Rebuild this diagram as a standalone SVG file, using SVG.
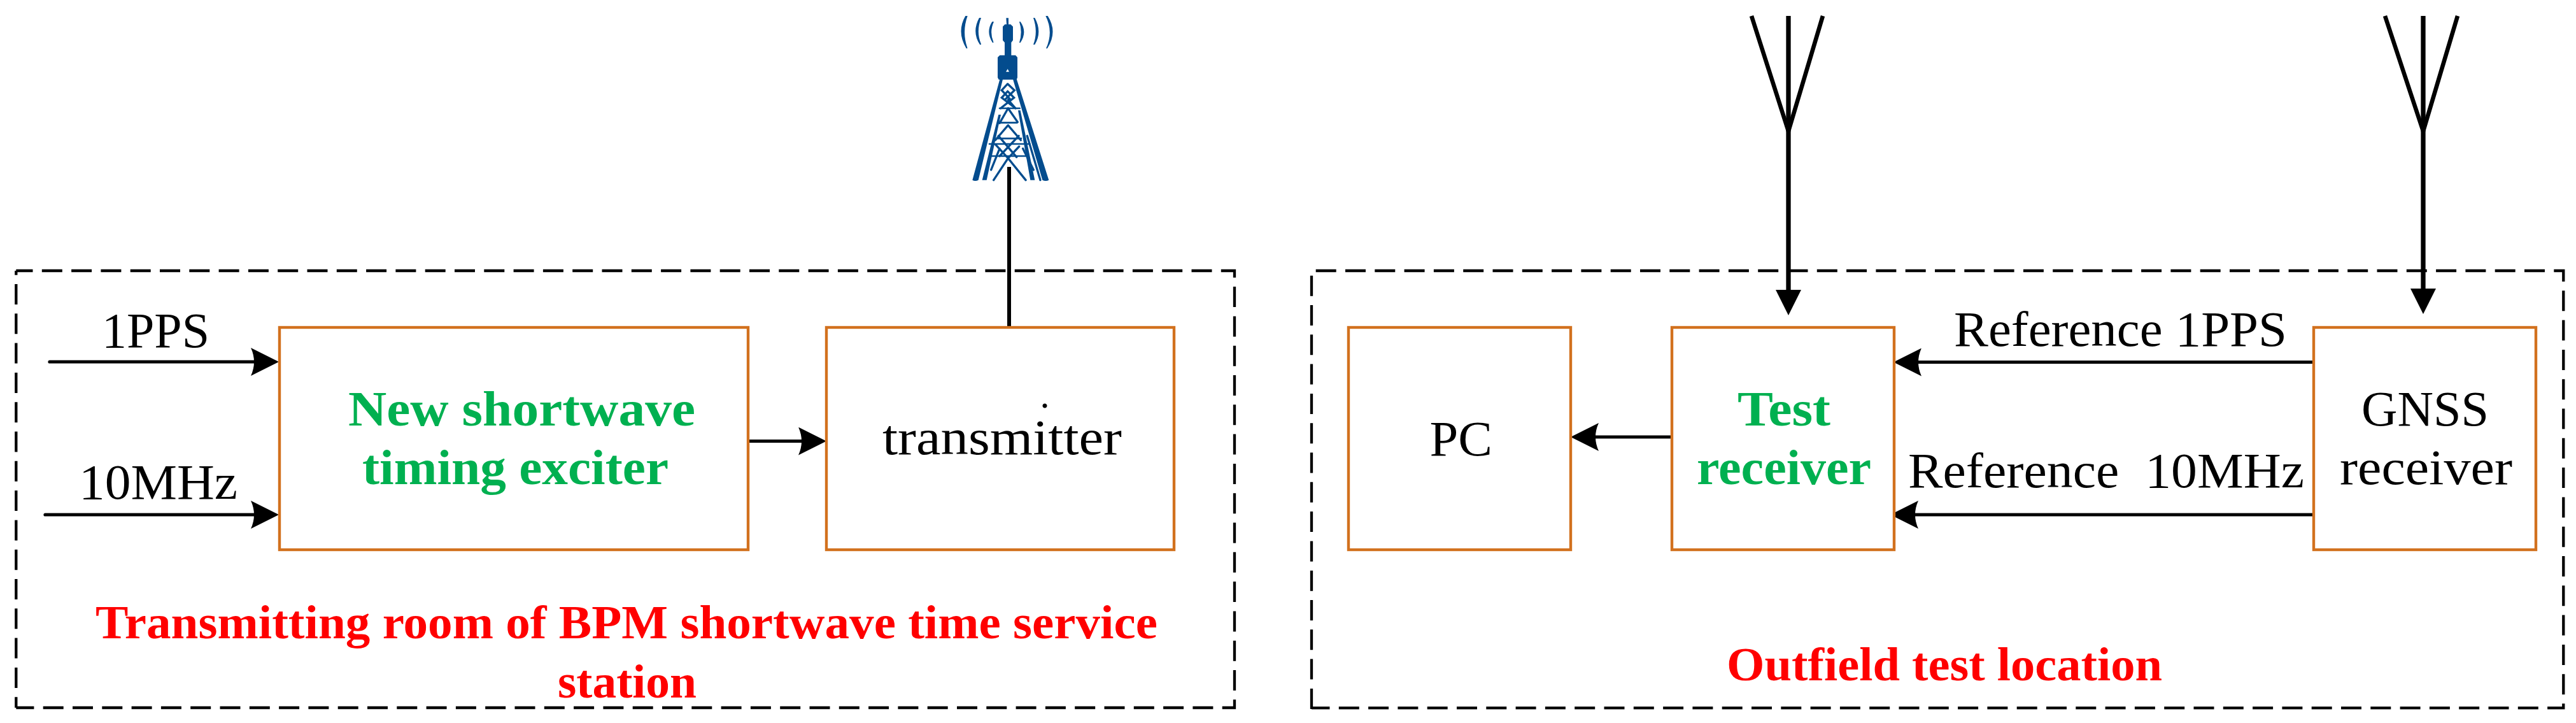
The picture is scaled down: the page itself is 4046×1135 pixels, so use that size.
<svg xmlns="http://www.w3.org/2000/svg" width="4046" height="1135" viewBox="0 0 4046 1135">
<style>
.zone{fill:none;stroke:#000;stroke-width:4.3;stroke-dasharray:32 14.3}
.box{fill:#fff;stroke:#D2711E;stroke-width:4.4}
.wire{fill:none;stroke:#000;stroke-width:5.2;stroke-linecap:round;marker-end:url(#head)}
.mast{fill:none;stroke:#000;stroke-width:6}
.feed{fill:none;stroke:#000;stroke-width:7.3;marker-end:url(#down)}
.arm{fill:none;stroke:#000;stroke-width:6.6}
.t{font-family:"Liberation Serif","Times New Roman",serif;font-size:78px;fill:#000;white-space:pre}
.g{font-weight:bold;fill:#00B050}
.r{font-weight:bold;fill:#FF0000;font-size:74px}
.tw{fill:none;stroke:#034C8E;stroke-width:10;stroke-linecap:round}
.tf{fill:#034C8E}
</style>
<defs>
<marker id="head" markerUnits="userSpaceOnUse" markerWidth="44" markerHeight="44" viewBox="0 0 44 44" refX="34" refY="22" orient="auto"><path d="M44 22L0 0Q10 22 0 44Z" fill="#000"/></marker>
<marker id="down" markerUnits="userSpaceOnUse" markerWidth="40" markerHeight="40" viewBox="0 0 40 40" refX="30" refY="20" orient="auto"><path d="M40 20L0 0V40Z" fill="#000"/></marker>
</defs>
<rect width="4046" height="1135" fill="#fff"/>
<g id="zone-transmit">
<path class="zone" style="stroke-dashoffset:5.800" d="M25.300 425H1939V1111H25.300"/>
<path class="zone" style="stroke-dashoffset:25.300" d="M25.300 425V1111"/>
<text class="t r" x="150" y="1002" textLength="1668" lengthAdjust="spacingAndGlyphs">Transmitting room of BPM shortwave time service</text>
<text class="t r" x="876" y="1095" textLength="218" lengthAdjust="spacingAndGlyphs">station</text></g>
<g id="zone-outfield">
<path class="zone" style="stroke-dashoffset:39.600" d="M2060 425H4026.300V1111.300H2060"/>
<path class="zone" style="stroke-dashoffset:38.600" d="M2060 425V1113"/>
<text class="t r" x="2712" y="1068" textLength="684" lengthAdjust="spacingAndGlyphs">Outfield test location</text></g>
<g id="connectors">
<path class="wire" d="M78 568H428"/>
<path class="wire" d="M71 808H428"/>
<path class="wire" d="M1175 692.500H1288"/>
<path class="mast" d="M1585 262V514"/>
<path class="wire" d="M2626 686H2477"/>
<path class="wire" d="M3634 568.500H2984"/>
<path class="wire" d="M3634 808H2979"/>
<path class="feed" d="M2809 25V485"/>
<path class="arm" d="M2751 25L2809 206L2863 25"/>
<path class="feed" d="M3806 25V483"/>
<path class="arm" d="M3746 25L3806 206L3860 25"/>
</g>
<g id="label-1pps"><text class="t" x="160" y="545" textLength="169" lengthAdjust="spacingAndGlyphs">1PPS</text></g>
<g id="label-10mhz"><text class="t" x="124" y="783" textLength="249" lengthAdjust="spacingAndGlyphs">10MHz</text></g>
<g id="label-ref-1pps"><text class="t" x="3069" y="543" textLength="523" lengthAdjust="spacingAndGlyphs">Reference 1PPS</text></g>
<g id="label-ref-10mhz"><text class="t" x="2997" y="765" textLength="622" lengthAdjust="spacingAndGlyphs" xml:space="preserve">Reference  10MHz</text></g>
<g id="node-exciter"><rect class="box" x="439" y="514" width="736" height="349"/>
<text class="t g" x="547" y="668" textLength="545" lengthAdjust="spacingAndGlyphs">New shortwave</text>
<text class="t g" x="569" y="760" textLength="481" lengthAdjust="spacingAndGlyphs">timing exciter</text></g>
<g id="node-transmitter"><rect class="box" x="1298" y="514" width="546" height="349"/>
<text class="t" style="font-size:60px" x="1641" y="639.500" text-anchor="middle">.</text>
<text class="t" x="1386" y="713" textLength="376" lengthAdjust="spacingAndGlyphs">transmitter</text></g>
<g id="node-pc"><rect class="box" x="2118" y="514" width="349" height="349"/>
<text class="t" x="2245.500" y="715" textLength="98.500" lengthAdjust="spacingAndGlyphs">PC</text></g>
<g id="node-test-receiver"><rect class="box" x="2626" y="514" width="349" height="349"/>
<text class="t g" x="2729" y="668" textLength="146" lengthAdjust="spacingAndGlyphs">Test</text>
<text class="t g" x="2665" y="760" textLength="274" lengthAdjust="spacingAndGlyphs">receiver</text></g>
<g id="node-gnss"><rect class="box" x="3634" y="514" width="349" height="349"/>
<text class="t" x="3709" y="668" textLength="200" lengthAdjust="spacingAndGlyphs">GNSS</text>
<text class="t" x="3675" y="760" textLength="271" lengthAdjust="spacingAndGlyphs">receiver</text></g>
<g id="node-tower" transform="translate(1400 0) scale(.33333)">
<path class="tf" d="M349 75h10Q332 150 358 225v3h-5Q306 150 349 75ZM414 84h9Q398 150 423 208v2h-6Q378 150 414 84ZM475 102h8Q461 150 481 198v3h-4Q444 150 475 102ZM603 102h5Q642 150 608 201h-5Q619 150 603 102ZM669 84h7Q712 150 676 210h-7Q692 150 669 84ZM727 75h10Q785 150 735 228h-6Q765 150 727 75Z"/>
<path class="tf" d="M541 85h11v30h10l11 10v65l-8 10v60h20l9 10v95l-4 10h-84l-5-10v-95l10-10h23v-60l-9-10v-65l10-10h8Z"/>
<path class="tf" d="M512 370L382 848Q395 856 410 848L526 370ZM588 365L742 848Q728 856 712 848L572 370ZM505 540L428 848h21L516 540ZM597 520L655 848h21L608 520Z"/>
<g class="tw">
<path d="M640 640L702 848"/>
<path style="stroke-width:8" d="M510 510H605M505 578H592M500 652H612M462 678H652M472 735H640"/>
<path d="M550 745L482 848M550 745L633 848M490 680L550 745L602 690M505 640L590 740M600 640L510 735M510 700L470 800M620 700L670 800"/>
<path d="M548 395L520 425L562 470M548 395L580 425L535 470M548 430L520 460L585 510M548 430L578 460L515 510M550 470L585 510M550 510L510 580M550 510L595 575M550 590L490 660M550 590L610 660"/>
</g>
<path d="M540 338h15l-7-13Z" fill="#fff"/>
</g>
</svg>
